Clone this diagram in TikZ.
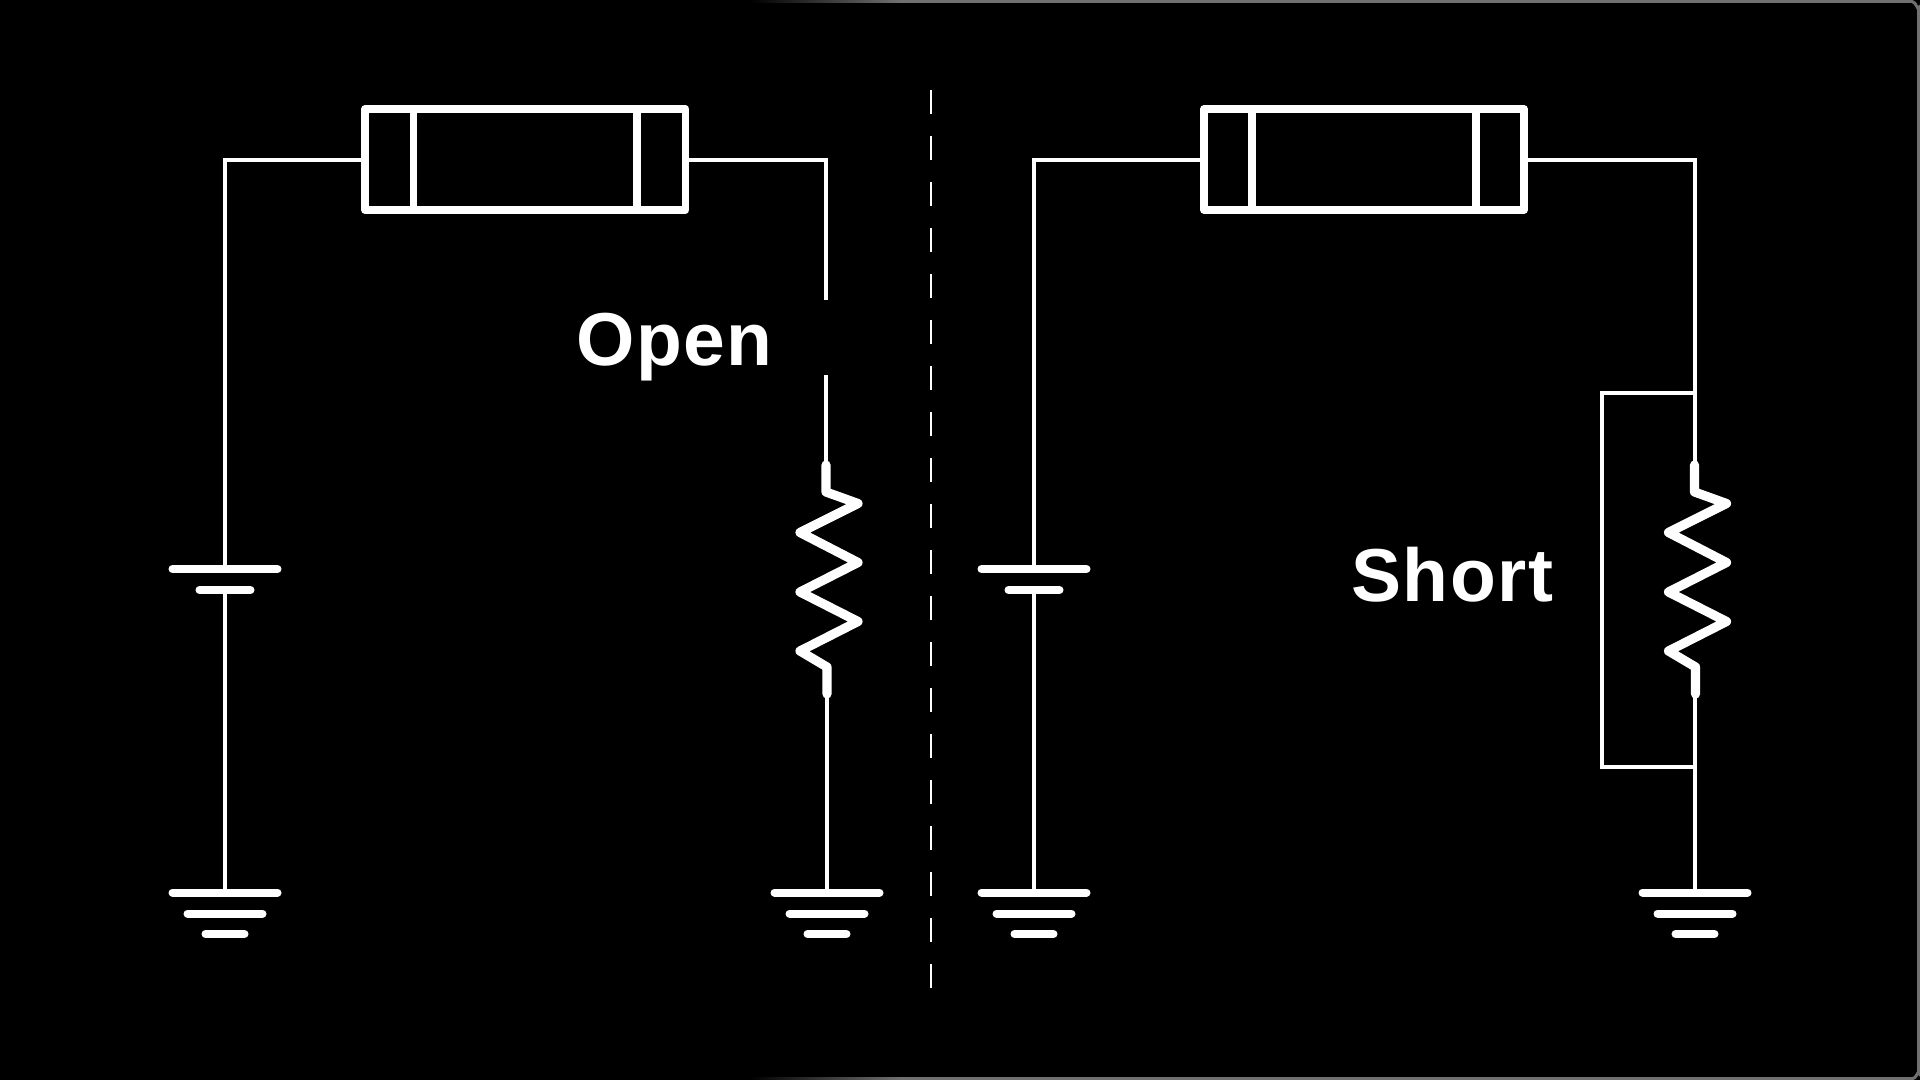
\documentclass[tikz,border=0pt]{standalone}
\usepackage{fontspec}
\setmainfont{Liberation Sans}[LetterSpace=2]
\definecolor{edgegray}{HTML}{707070}
\tikzset{
  x=0.5pt,y=-0.5pt,
  wire/.style={draw=white,line width=2pt,line join=miter},
  zigzag/.style={draw=white,line width=4.6pt,line cap=round,line join=round},
  plate/.style={draw=white,line width=4pt,line cap=round},
  fuse/.style={draw=white,line width=3.75pt,line join=round},
  divider/.style={draw=white,line width=1.2pt,dash pattern=on 12.3pt off 10.7pt},
  lbl/.style={text=white,inner sep=0pt,anchor=base west,font=\fontsize{37.5}{38}\selectfont\bfseries},
}
\begin{document}
\begin{tikzpicture}
\useasboundingbox (0,0) rectangle (1920,1080);
\fill[black] (0,0) rectangle (1920,1080);
% window edge
\shade[left color=black,right color=edgegray,shading=axis] (750,0) rectangle (900,3);
\shade[left color=black,right color=edgegray,shading=axis] (750,1077) rectangle (900,1080);
\draw[edgegray,line width=1.5pt] (900,1.5) -- (1912,1.5) to[out=0,in=-90] (1918.5,8) -- (1918.5,1073) to[out=90,in=0] (1913,1078.5) -- (900,1078.5);
% fuses
\draw[fuse] (365,109) rectangle (685.5,210);
\draw[fuse] (413.5,109) -- (413.5,210) (637,109) -- (637,210);
\draw[fuse] (1204,109) rectangle (1524,210);
\draw[fuse] (1252,109) -- (1252,210) (1476,109) -- (1476,210);
% left circuit coordinates
\coordinate (lcorner) at (225,160);
\coordinate (lbat) at (225,569);
\coordinate (lbatb) at (225,590);
\coordinate (lgnd) at (225,892.5);
\coordinate (lfl) at (362,160);
\coordinate (lfr) at (689,160);
\coordinate (lrt) at (826,160);
\coordinate (lo1) at (826,300.5);
\coordinate (lo2) at (826,375);
\coordinate (lr1) at (826,465);
\coordinate (lr2) at (827,695);
\coordinate (lrgnd) at (827,892.5);
% right circuit coordinates
\coordinate (rcorner) at (1034,160);
\coordinate (rbat) at (1034,569);
\coordinate (rbatb) at (1034,590);
\coordinate (rgnd) at (1034,892.5);
\coordinate (rfl) at (1201,160);
\coordinate (rfr) at (1527,160);
\coordinate (rrt) at (1694.5,160);
\coordinate (rr1) at (1694.5,465);
\coordinate (rr2) at (1695,695);
\coordinate (rs1) at (1695,392.5);
\coordinate (rs2) at (1695,766.5);
\coordinate (rsa) at (1601.5,392.5);
\coordinate (rsb) at (1601.5,766.5);
\coordinate (rrgnd) at (1695,892.5);
% wires
\draw[wire] (lfl) -- (lcorner) -- (lbat);
\draw[wire] (lbatb) -- (lgnd);
\draw[wire] (lfr) -- (lrt) -- (lo1);
\draw[wire] (lo2) -- (lr1);
\draw[wire] (lr2) -- (lrgnd);
\draw[wire] (rfl) -- (rcorner) -- (rbat);
\draw[wire] (rbatb) -- (rgnd);
\draw[wire] (rfr) -- (rrt) -- (rr1);
\draw[wire] (rr2) -- (rrgnd);
\draw[wire] (rs1) -- (rsa) -- (rsb) -- (rs2);
% resistors
\foreach \dx in {0,868.5}{
  \draw[zigzag] (826+\dx,465) -- (826+\dx,492) -- (858+\dx,503.5) -- (800+\dx,532.5) -- (858+\dx,562.5) -- (800+\dx,592) -- (858+\dx,621.5) -- (800+\dx,651) -- (827+\dx,667) -- (827+\dx,694);
}
% batteries
\foreach \cx in {225,1034}{
  \draw[plate] (\cx-52.5,569) -- (\cx+52.5,569);
  \draw[plate] (\cx-25.5,590) -- (\cx+25.5,590);
}
% grounds
\foreach \cx in {225,827,1034,1695}{
  \draw[plate] (\cx-52.5,892.5) -- (\cx+52.5,892.5);
  \draw[plate] (\cx-37.5,913.5) -- (\cx+37.5,913.5);
  \draw[plate] (\cx-19.5,934) -- (\cx+19.5,934);
}
% divider
\coordinate (dtop) at (930.7,89.7);
\coordinate (dbot) at (930.7,988);
\draw[divider] (dtop) -- (dbot);
% labels
\node[lbl] (open) at (576,365) {Open};
\node[lbl] (short) at (1351,601) {Short};
\end{tikzpicture}
\end{document}
